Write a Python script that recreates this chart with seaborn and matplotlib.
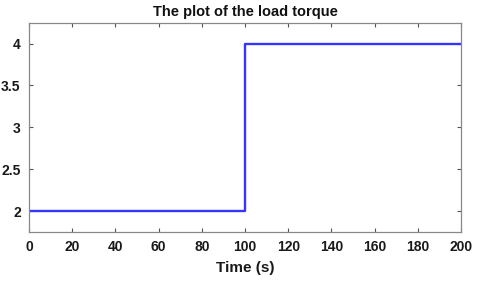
import seaborn as sns
import matplotlib.pyplot as plt

# load torque step profile
time_s = [0, 100, 200]
torque = [2, 4, 4]

x_ticks = [0, 20, 40, 60, 80, 100, 120, 140, 160, 180, 200]
y_ticks = [2, 2.5, 3, 3.5, 4]
y_labels = ["2", "2.5", "3", "3.5", "4"]

sns.set_style("white")
plt.rcParams['font.family'] = ['Liberation Sans', 'DejaVu Sans']

fig = plt.figure(figsize=(4.8, 2.82), dpi=100)
ax = fig.add_axes([0.0604, 0.177, 0.9, 0.743])

sns.lineplot(x=time_s, y=torque, ax=ax, color="#3535ff", linewidth=1.7,
             drawstyle="steps-post")

ax.set_xlim(0, 200)
ax.set_ylim(1.75, 4.25)
ax.set_xticks(x_ticks)
ax.set_xticklabels([str(t) for t in x_ticks], fontweight="bold")
ax.set_yticks(y_ticks)
ax.set_yticklabels(y_labels, fontweight="bold")
ax.tick_params(direction="in", length=3, width=0.8, color="#555555",
               labelsize=10, labelcolor="#1a1a1a", top=True, right=True,
               bottom=True, left=True, pad=6)
for side in ax.spines.values():
    side.set_color("#888888")
    side.set_linewidth(0.9)

ax.set_xlabel("Time (s)", fontsize=11, fontweight="bold", color="#1a1a1a", labelpad=5)
ax.set_title("The plot of the load torque", fontsize=10.5, fontweight="bold",
             color="#111111", pad=5)

plt.savefig("out.png", dpi=100)
